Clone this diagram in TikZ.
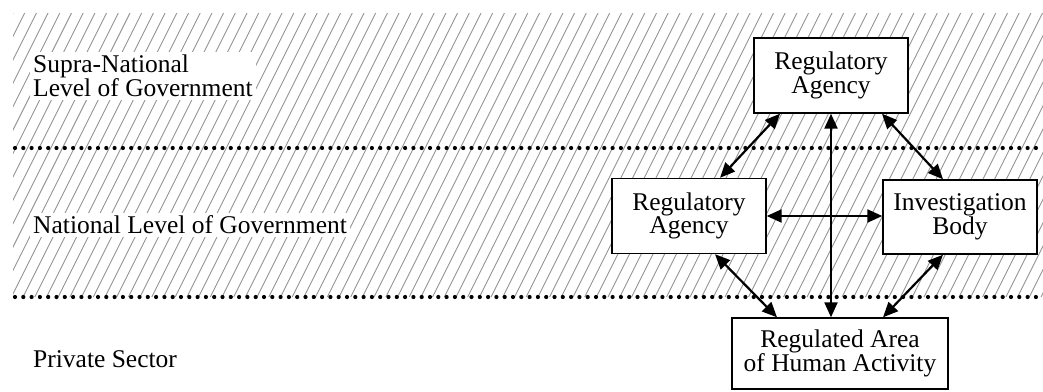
\documentclass[tikz,border=0pt]{standalone}
\usepackage{fontspec}
\setmainfont{Liberation Serif}
\usetikzlibrary{arrows.meta}
\begin{document}
\begin{tikzpicture}[x=1pt,y=-1pt,
  lbl/.style={font=\fontsize{25.5}{23.5}\selectfont, align=left, fill=white, inner sep=3pt},
  box/.style={draw, line width=1.4pt, fill=white, minimum width=154pt, minimum height=75pt,
              align=center, inner sep=0pt, font=\fontsize{25.5}{23.5}\selectfont},
  link/.style={line width=2.2pt, {Triangle[length=15pt,width=13pt]}-{Triangle[length=15pt,width=13pt]}},
  hatch/.style={draw=black!42, line width=0.9pt},
  level/.style={line width=4.2pt, dash pattern=on 0pt off 8.3pt, line cap=round}
]
\useasboundingbox (0,0) rectangle (1043,391);

% hatched band covering both levels of government
\begin{scope}
  \clip (13,13) rectangle (1043,297);
  \foreach \i in {0,...,102} {
    \draw[hatch] (13-142+\i*11.7,297) -- ++(142,-284);
  }
\end{scope}

% boundaries between levels
\draw[level] (15,148) -- (1043,148);
\draw[level] (15,297) -- (1043,297);

% level labels
\node[lbl, anchor=west] (supra) at (30,76) {Supra-National\\Level of Government};
\node[lbl, anchor=west] (natl) at (30,225) {National Level of Government};
\node[lbl, anchor=west] (priv) at (30,359) {Private Sector};

% institutions
\node[box] (sra) at (831,75.5) {Regulatory\\Agency};
\node[box] (nra) at (689,216) {Regulatory\\Agency};
\node[box, minimum height=74pt] (ib) at (960,217) {Investigation\\Body};
\node[box, minimum width=216pt, minimum height=71pt] (ra) at (840,353.5) {Regulated Area\\of Human Activity};

% relations
\draw[link] ([xshift=-51pt]sra.south) -- ([xshift=31pt]nra.north);
\draw[link] ([xshift=51pt]sra.south) -- ([xshift=-17pt]ib.north);
\draw[link] (sra.south) -- (sra.south |- ra.north);
\draw[link] (nra.east) -- (nra.east -| ib.west);
\draw[link] ([xshift=26pt]nra.south) -- ([xshift=-63pt]ra.north);
\draw[link] ([xshift=-17pt]ib.south) -- ([xshift=43pt]ra.north);
\end{tikzpicture}
\end{document}
